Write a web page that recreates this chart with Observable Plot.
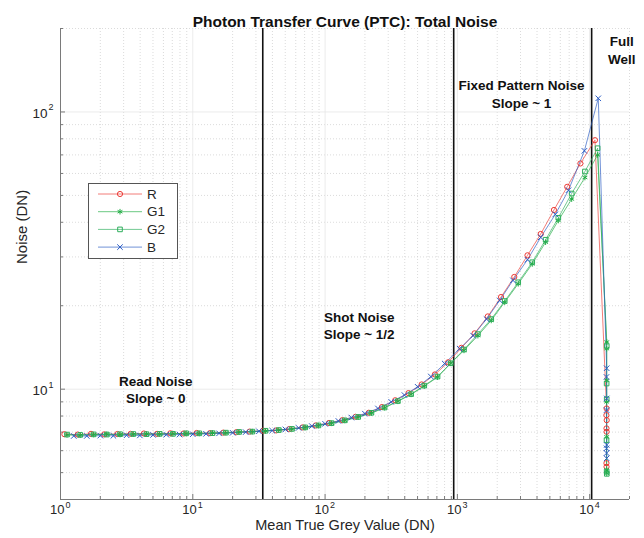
<!DOCTYPE html>
<html><head><meta charset="utf-8">
<script src="https://cdn.jsdelivr.net/npm/d3@7"></script>
<script src="https://cdn.jsdelivr.net/npm/@observablehq/plot@0.6"></script>
<style>
body{margin:0;background:#fff;font-family:"Liberation Sans",Arial,sans-serif;}
#wrap{position:relative;width:644px;height:538px;}
</style></head><body><div id="wrap"></div>
<script>
// ---- data ----
const channels = ["R", "G1", "G2", "B"];
const colors = ["#ec3b36", "#22ad45", "#2eae5c", "#2b5cc4"];
const symbols = ["circle", "asterisk", "square", "times"];

const rMean = [1.07,1.35,1.70,2.14,2.69,3.39,4.27,5.37,6.76,8.51,10.7,13.5,17.0,21.4,26.9,33.9,42.7,53.7,67.6,85.1,107,135,170,214,269,339,427,537,676,851,1072,1349,1698,2138,2692,3388,4266,5370,6761,8511,10965];
const rNoise = [6.88,6.86,6.90,6.87,6.89,6.90,6.92,6.90,6.93,6.92,6.95,6.94,6.97,7.00,7.03,7.08,7.10,7.18,7.28,7.40,7.55,7.73,7.95,8.22,8.62,9.12,9.68,10.4,11.3,12.5,14.1,15.9,18.3,21.5,25.4,30.4,36.3,44.3,53.7,65.2,79.1];
const rSatMean = [13420,13380,13450,13400,13430,13390,13410];
const rSatNoise = [8.52,8.06,7.73,7.22,7.02,5.41,5.25];

const gMean = [1.12,1.41,1.78,2.24,2.82,3.55,4.47,5.62,7.08,8.91,11.2,14.1,17.8,22.4,28.2,35.5,44.7,56.2,70.8,89.1,112,141,178,224,282,355,447,562,708,891,1122,1429,1803,2280,2884,3681,4645,5794,7311,9204,11482];
const g1Noise = [6.84,6.82,6.86,6.88,6.86,6.88,6.89,6.88,6.91,6.92,6.92,6.95,6.96,7.00,7.03,7.07,7.12,7.18,7.27,7.39,7.53,7.71,7.93,8.20,8.57,9.04,9.58,10.25,11.05,12.4,13.8,15.6,17.7,20.6,24.0,28.3,33.9,40.6,48.5,58.0,70.0];
const g1SatMean = [13470,13440,13460,13420,13450,13430,13460];
const g1SatNoise = [14.8,14.0,10.77,9.0,6.73,5.11,4.97];
const g2Noise = [6.86,6.84,6.87,6.86,6.88,6.89,6.88,6.90,6.90,6.93,6.93,6.94,6.97,7.01,7.03,7.08,7.12,7.19,7.28,7.40,7.54,7.72,7.94,8.22,8.59,9.06,9.60,10.3,11.1,12.4,13.9,15.8,17.9,20.8,24.3,28.7,34.6,41.5,50.8,61.0,74.0];
const g2SatMean = [13460,13430,13450,13410,13440,13470];
const g2SatNoise = [14.3,10.48,9.2,6.55,5.05,4.95];

const bMean = [1.26,1.58,2.00,2.51,3.16,3.98,5.01,6.31,7.94,10.0,12.6,15.8,20.0,25.1,31.6,39.8,50.1,63.1,79.4,100,126,158,200,251,316,398,501,631,802,1040,1315,1660,2089,2630,3388,4266,5495,6918,9120,11614];
const bNoise = [6.78,6.78,6.80,6.79,6.82,6.81,6.84,6.85,6.86,6.88,6.90,6.93,6.96,7.00,7.05,7.09,7.16,7.25,7.36,7.50,7.68,7.90,8.16,8.52,9.00,9.52,10.2,11.1,12.37,14.0,15.6,17.9,20.9,24.7,29.3,35.3,42.7,52.2,72.4,112];
const bSatMean = [13440,13400,13460,13420,13450,13410,13430,13440];
const bSatNoise = [11.9,11.07,9.26,8.4,6.29,6.12,5.88,5.63];

const regionLines = [33.8, 938, 10350];
const xTickVals = [1, 10, 100, 1000, 10000];
const xTickExp = ["0", "1", "2", "3", "4"];
const yTickVals = [10, 100];
const yTickExp = ["1", "2"];

// ---- build table ----
const rows = [];
function add(ch, means, noise) { means.forEach((m, i) => rows.push({ch, x: m, y: noise[i]})); }
add("R", rMean.concat(rSatMean), rNoise.concat(rSatNoise));
add("G1", gMean.concat(g1SatMean), g1Noise.concat(g1SatNoise));
add("G2", gMean.concat(g2SatMean), g2Noise.concat(g2SatNoise));
add("B", bMean.concat(bSatMean), bNoise.concat(bSatNoise));

const W = 644, H = 538, ML = 60, MR = 15, MT = 28, MB = 39;
const innerW = W - ML - MR, innerH = H - MT - MB;
const xDomain = [1, 20000], yDomain = [4, 200];
const xAll = d3.scaleLog().domain(xDomain).ticks();
const yAll = d3.scaleLog().domain(yDomain).ticks();
const xMinor = xAll.filter(v => !xTickVals.includes(v));
const yMinor = yAll.filter(v => !yTickVals.includes(v));
const font = "Liberation Sans, Arial, sans-serif";
const txt = "#262626";

const chart = Plot.plot({
  width: W, height: H,
  marginLeft: ML, marginRight: MR, marginTop: MT, marginBottom: MB,
  style: {fontFamily: font, background: "white"},
  x: {type: "log", domain: xDomain, axis: null},
  y: {type: "log", domain: yDomain, axis: null},
  color: {domain: channels, range: colors},
  symbol: {domain: channels, range: symbols},
  marks: [
    Plot.ruleX(xMinor, {stroke: "#cccccc", strokeDasharray: "1,2", strokeWidth: 0.7}),
    Plot.ruleY(yMinor, {stroke: "#cccccc", strokeDasharray: "1,2", strokeWidth: 0.7}),
    Plot.ruleX(xTickVals, {stroke: "#e6e6e6", strokeWidth: 0.8}),
    Plot.ruleY(yTickVals, {stroke: "#e6e6e6", strokeWidth: 0.8}),
    Plot.ruleX([xDomain[0]], {stroke: "#7a7a7a", strokeWidth: 1}),
    Plot.ruleY([yDomain[0]], {stroke: "#7a7a7a", strokeWidth: 1}),
    Plot.tickX(xTickVals, {insetTop: innerH - 5, stroke: "#7a7a7a"}),
    Plot.tickX(xMinor, {insetTop: innerH - 3, stroke: "#7a7a7a"}),
    Plot.tickY(yTickVals, {insetRight: innerW - 5, stroke: "#7a7a7a"}),
    Plot.tickY(yMinor, {insetRight: innerW - 3, stroke: "#7a7a7a"}),
    Plot.ruleX(regionLines, {stroke: "#111", strokeWidth: 1.6}),
    Plot.line(rows, {x: "x", y: "y", z: "ch", stroke: "ch", strokeWidth: 0.9, strokeOpacity: 0.75}),
    Plot.dot(rows, {x: "x", y: "y", stroke: "ch", symbol: "ch", fill: "none", r: 2.6, strokeWidth: 1}),
    // tick labels
    Plot.text(xTickVals, {x: d => d, frameAnchor: "bottom", text: () => "10", textAnchor: "end", dx: 4, dy: 14.5, fontSize: 13, fill: txt}),
    Plot.text(xTickVals, {x: d => d, frameAnchor: "bottom", text: (d, i) => xTickExp[i], textAnchor: "start", dx: 5, dy: 8, fontSize: 9, fill: txt}),
    Plot.text(yTickVals, {y: d => d, frameAnchor: "left", text: () => "10", textAnchor: "end", dx: -13, dy: 1.5, fontSize: 13.5, fill: txt}),
    Plot.text(yTickVals, {y: d => d, frameAnchor: "left", text: (d, i) => yTickExp[i], textAnchor: "start", dx: -12, dy: -4.5, fontSize: 9, fill: txt}),
    // axis titles and title
    Plot.text(["Mean True Grey Value (DN)"], {frameAnchor: "bottom", dy: 30.5, fontSize: 14.5, fill: txt}),
    Plot.text(["Noise (DN)"], {frameAnchor: "left", dx: -38, rotate: -90, fontSize: 15, fill: txt}),
    Plot.text(["Photon Transfer Curve (PTC): Total Noise"], {frameAnchor: "top", dy: -13, fontSize: 15.5, fontWeight: "bold", fill: "#111"}),
    // region annotations
    Plot.text([{x: 5.25, y: 10, t: "Read Noise\nSlope ~ 0"}, {x: 181, y: 17.1, t: "Shot Noise\nSlope ~ 1/2"}, {x: 3053, y: 116.5, t: "Fixed Pattern Noise\nSlope ~ 1"}, {x: 17500, y: 168, t: "Full\nWell"}],
      {x: "x", y: "y", text: "t", fontSize: 13.5, fontWeight: "bold", lineHeight: 1.27, fill: "#111"})
  ]
});
document.getElementById("wrap").appendChild(chart);

// legend
const leg = d3.select("#wrap").append("svg")
  .attr("style", "position:absolute;left:88px;top:183px;font-family:" + font)
  .attr("width", 90).attr("height", 76);
leg.append("rect").attr("x", 0.5).attr("y", 0.5).attr("width", 89).attr("height", 75)
  .attr("fill", "white").attr("stroke", "#555").attr("stroke-width", 1);
const symMap = {circle: d3.symbolCircle, asterisk: d3.symbolAsterisk, square: d3.symbolSquare, times: d3.symbolTimes};
channels.forEach((c, i) => {
  const y = 11 + i * 17.7;
  leg.append("line").attr("x1", 10).attr("x2", 54).attr("y1", y).attr("y2", y)
    .attr("stroke", colors[i]).attr("stroke-width", 0.9).attr("stroke-opacity", 0.75);
  leg.append("path").attr("d", d3.symbol(symMap[symbols[i]], Math.PI * 2.6 * 2.6)())
    .attr("transform", `translate(32,${y})`).attr("fill", "none").attr("stroke", colors[i]).attr("stroke-width", 1);
  leg.append("text").attr("x", 59).attr("y", y).attr("dy", "0.35em").attr("font-size", 13.5).attr("fill", txt).text(c);
});
</script>
</body></html>
